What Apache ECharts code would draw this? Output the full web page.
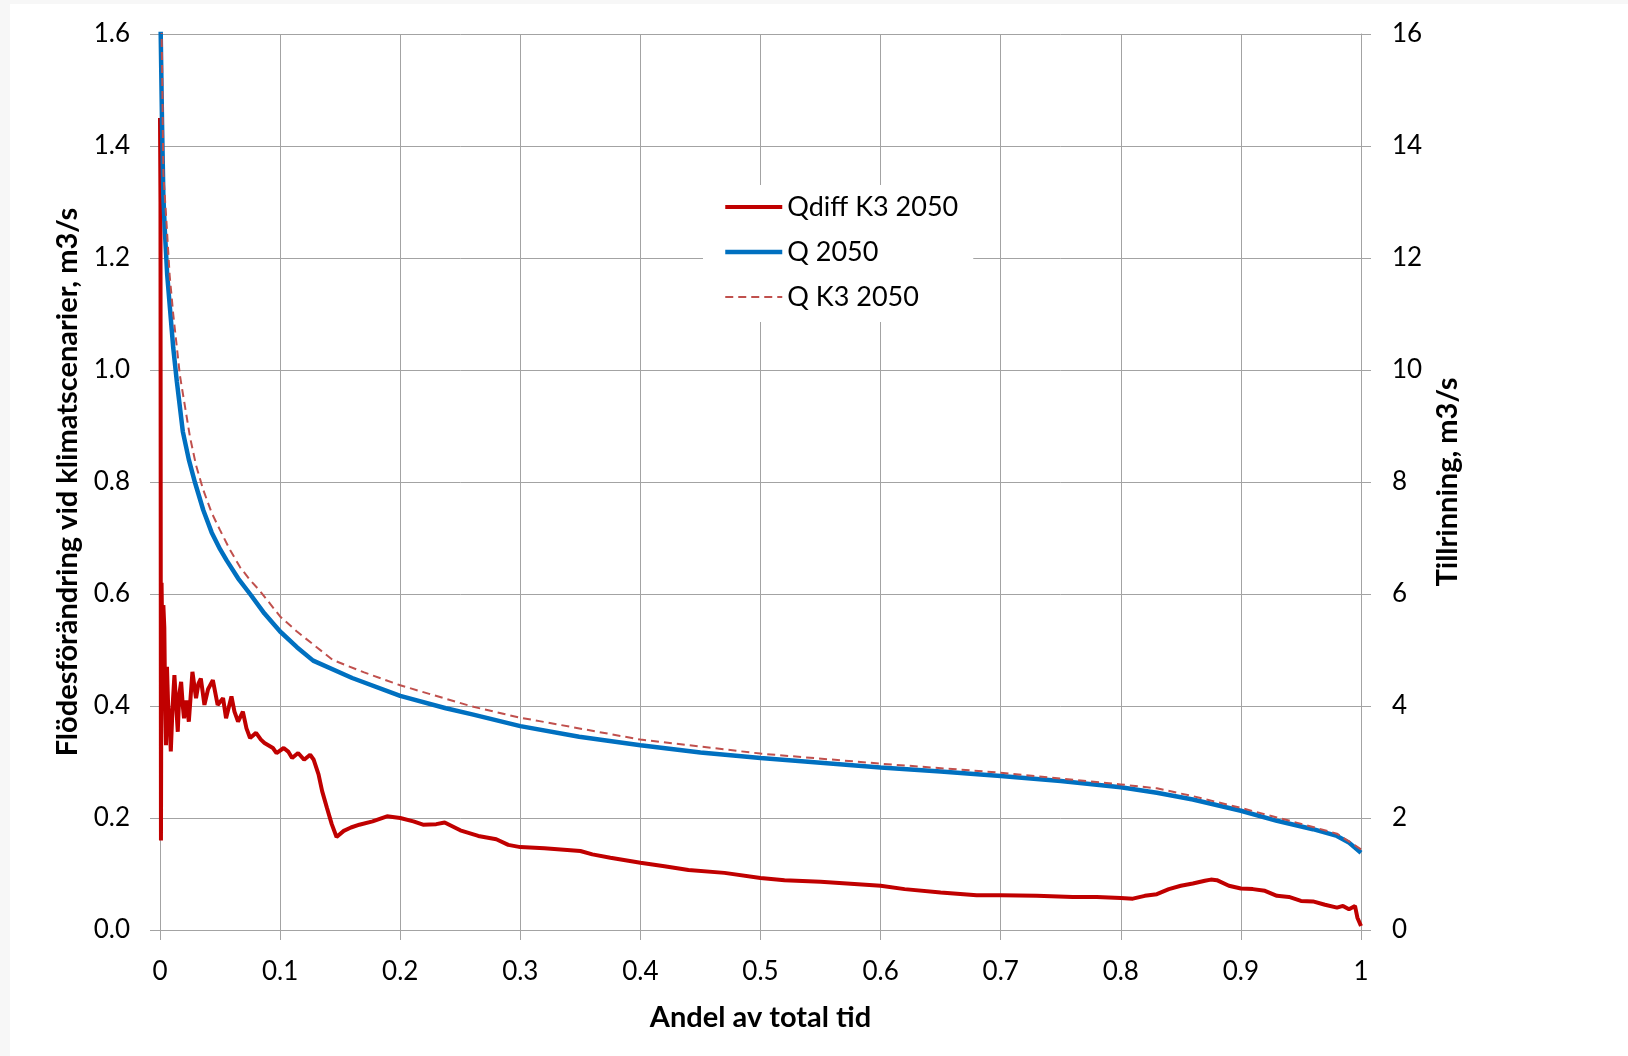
<!DOCTYPE html>
<html>
<head>
<meta charset="utf-8">
<script src="https://cdn.jsdelivr.net/npm/echarts@6/dist/echarts.min.js"></script>
<style>
  html, body { margin: 0; padding: 0; background: #f7f7f7; }
  #bg { position: absolute; left: 10px; top: 4px; width: 1618px; height: 1052px; background: #ffffff; }
  #chart { position: absolute; left: 0; top: 0; width: 1628px; height: 1056px; }
</style>
</head>
<body>
<div id="bg"></div>
<div id="chart"></div>
<script>
// ---- Data ----
const xTicks = ['0', '0.1', '0.2', '0.3', '0.4', '0.5', '0.6', '0.7', '0.8', '0.9', '1'];
const leftTicks = ['0.0', '0.2', '0.4', '0.6', '0.8', '1.0', '1.2', '1.4', '1.6'];
const rightTicks = ['0', '2', '4', '6', '8', '10', '12', '14', '16'];

const seriesNames = ['Qdiff K3 2050', 'Q 2050', 'Q K3 2050'];

// Qdiff K3 2050 (left axis): [andel av tid, m3/s]
const qdiffK3 = [
  [0, 1.45], [0.0004, 1.30], [0.0008, 0.16], [0.0013, 0.62], [0.002, 0.50], [0.0028, 0.58],
  [0.0036, 0.54], [0.0043, 0.40], [0.005, 0.33], [0.0058, 0.47], [0.0068, 0.40], [0.0078, 0.378],
  [0.009, 0.319], [0.0105, 0.40], [0.012, 0.455], [0.0135, 0.40], [0.0148, 0.354], [0.016, 0.42],
  [0.0176, 0.443], [0.019, 0.40], [0.02, 0.378], [0.022, 0.41], [0.024, 0.372], [0.027, 0.461],
  [0.030, 0.414], [0.032, 0.44], [0.034, 0.449], [0.037, 0.402], [0.040, 0.43], [0.044, 0.446],
  [0.048, 0.402], [0.0525, 0.414], [0.055, 0.378], [0.0595, 0.417], [0.062, 0.39], [0.065, 0.372],
  [0.069, 0.39], [0.072, 0.36], [0.075, 0.343], [0.080, 0.352], [0.084, 0.34], [0.087, 0.334],
  [0.094, 0.325], [0.097, 0.316], [0.103, 0.325], [0.107, 0.318], [0.11, 0.307], [0.115, 0.316],
  [0.12, 0.304], [0.125, 0.313], [0.128, 0.304], [0.132, 0.278], [0.135, 0.248], [0.139, 0.218],
  [0.143, 0.189], [0.147, 0.166], [0.153, 0.177], [0.159, 0.183], [0.166, 0.188], [0.177, 0.194],
  [0.189, 0.203], [0.2, 0.2], [0.211, 0.194], [0.219, 0.188], [0.23, 0.189], [0.237, 0.192],
  [0.25, 0.178], [0.265, 0.168], [0.28, 0.162], [0.29, 0.152], [0.3, 0.148], [0.32, 0.146],
  [0.35, 0.141], [0.36, 0.135], [0.375, 0.129], [0.4, 0.12], [0.42, 0.114], [0.44, 0.107],
  [0.47, 0.102], [0.5, 0.093], [0.52, 0.089], [0.55, 0.086], [0.6, 0.079], [0.62, 0.073],
  [0.65, 0.067], [0.68, 0.062], [0.7, 0.062], [0.73, 0.061], [0.76, 0.059], [0.78, 0.059],
  [0.8, 0.057], [0.81, 0.056], [0.82, 0.061], [0.83, 0.064], [0.84, 0.073], [0.85, 0.079],
  [0.86, 0.083], [0.87, 0.088], [0.875, 0.090], [0.88, 0.089], [0.89, 0.079], [0.9, 0.074],
  [0.91, 0.073], [0.92, 0.070], [0.93, 0.061], [0.94, 0.059], [0.95, 0.052], [0.96, 0.051],
  [0.97, 0.045], [0.98, 0.040], [0.985, 0.043], [0.99, 0.037], [0.995, 0.043], [0.997, 0.022],
  [1.0, 0.007]
];

// Q 2050 (right axis)
const q2050 = [
  [0, 18], [0.0006, 16], [0.0017, 14.4], [0.0028, 13.1], [0.004, 12.5], [0.006, 11.7],
  [0.0083, 11.1], [0.011, 10.4], [0.014, 9.8], [0.019, 8.9], [0.024, 8.4], [0.029, 8.0],
  [0.036, 7.5], [0.043, 7.1], [0.05, 6.8], [0.0555, 6.6], [0.065, 6.28], [0.075, 6.0],
  [0.087, 5.65], [0.1, 5.33], [0.114, 5.05], [0.1275, 4.81], [0.16, 4.5], [0.2, 4.18],
  [0.238, 3.96], [0.26, 3.85], [0.3, 3.64], [0.349, 3.45], [0.4, 3.30], [0.45, 3.17],
  [0.5, 3.07], [0.6, 2.90], [0.65, 2.83], [0.7, 2.75], [0.75, 2.66], [0.8, 2.55],
  [0.83, 2.45], [0.86, 2.33], [0.9, 2.13], [0.93, 1.95], [0.96, 1.80], [0.98, 1.68],
  [0.99, 1.56], [1.0, 1.38]
];

// Q K3 2050 (right axis)
const qK3_2050 = [
  [0, 18], [0.0014, 16], [0.0028, 13.5], [0.0055, 12.6], [0.008, 11.7], [0.011, 11.0],
  [0.0166, 9.9], [0.025, 8.8], [0.03, 8.3], [0.036, 7.86], [0.043, 7.45], [0.05, 7.14],
  [0.058, 6.8], [0.0666, 6.48], [0.075, 6.25], [0.083, 6.06], [0.1, 5.6], [0.114, 5.33],
  [0.1275, 5.10], [0.144, 4.82], [0.17, 4.6], [0.2, 4.37], [0.26, 3.99], [0.3, 3.79],
  [0.316, 3.73], [0.4, 3.40], [0.5, 3.15], [0.6, 2.97], [0.7, 2.81], [0.8, 2.60],
  [0.83, 2.53], [0.86, 2.39], [0.9, 2.18], [0.93, 2.01], [0.96, 1.84], [0.98, 1.72],
  [1.0, 1.44]
];

// ---- Chart ----
const FONT = 'Lato';
const gridColor = '#a3a3a3';
const chart = echarts.init(document.getElementById('chart'), null, { renderer: 'canvas' });

chart.setOption({
  backgroundColor: 'transparent',
  animation: false,
  textStyle: { fontFamily: FONT, color: '#000' },
  grid: { left: 160, right: 267, top: 34, bottom: 126, containLabel: false },
  legend: {
    orient: 'vertical',
    left: 703,
    top: 185,
    padding: [7, 15, 10, 20],
    backgroundColor: '#ffffff',
    itemWidth: 57,
    itemHeight: 14,
    itemGap: 15,
    itemStyle: { opacity: 0, borderWidth: 0 },
    lineStyle: { width: 'inherit' },
    textStyle: { fontFamily: FONT, fontSize: 27, color: '#000', lineHeight: 30 },
    data: seriesNames
  },
  xAxis: {
    type: 'value',
    min: 0, max: 1, interval: 0.1,
    name: 'Andel av total tid',
    nameLocation: 'middle',
    nameGap: 73,
    nameTextStyle: { fontFamily: FONT, fontSize: 29, fontWeight: 'bold', color: '#000' },
    axisLine: { show: true, lineStyle: { color: gridColor, width: 1 } },
    axisTick: { show: true, inside: false, length: 10, lineStyle: { color: gridColor } },
    axisLabel: {
      fontFamily: FONT, fontSize: 26, color: '#000', margin: 29,
      formatter: (v) => xTicks[Math.round(v * 10)]
    },
    splitLine: { show: true, lineStyle: { color: gridColor, width: 1 } }
  },
  yAxis: [
    {
      type: 'value',
      position: 'left',
      min: 0, max: 1.6, interval: 0.2,
      name: 'Flödesförändring vid klimatscenarier, m3/s',
      nameLocation: 'middle',
      nameRotate: 90,
      nameGap: 78,
      nameTextStyle: { fontFamily: FONT, fontSize: 29, fontWeight: 'bold', color: '#000' },
      axisLine: { show: true, lineStyle: { color: gridColor, width: 1 } },
      axisTick: { show: true, inside: false, length: 10, lineStyle: { color: gridColor } },
      axisLabel: {
        fontFamily: FONT, fontSize: 26, color: '#000', margin: 30,
        formatter: (v) => leftTicks[Math.round(v * 5)]
      },
      splitLine: { show: true, lineStyle: { color: gridColor, width: 1 } }
    },
    {
      type: 'value',
      position: 'right',
      min: 0, max: 16, interval: 2,
      name: 'Tillrinning, m3/s',
      nameLocation: 'middle',
      nameRotate: 90,
      nameGap: 72,
      nameTextStyle: { fontFamily: FONT, fontSize: 29, fontWeight: 'bold', color: '#000' },
      axisLine: { show: true, lineStyle: { color: gridColor, width: 1 } },
      axisTick: { show: true, inside: false, length: 10, lineStyle: { color: gridColor } },
      axisLabel: {
        fontFamily: FONT, fontSize: 26, color: '#000', margin: 31,
        formatter: (v) => rightTicks[Math.round(v / 2)]
      },
      splitLine: { show: false }
    }
  ],
  series: [
    {
      name: seriesNames[0], type: 'line', yAxisIndex: 0, data: qdiffK3,
      showSymbol: false, symbol: 'none', smooth: false, clip: true,
      lineStyle: { color: '#C00000', width: 4 }, itemStyle: { color: '#C00000' }
    },
    {
      name: seriesNames[1], type: 'line', yAxisIndex: 1, data: q2050,
      showSymbol: false, symbol: 'none', smooth: false, clip: true,
      lineStyle: { color: '#0070C0', width: 4.5 }, itemStyle: { color: '#0070C0' }
    },
    {
      name: seriesNames[2], type: 'line', yAxisIndex: 1, data: qK3_2050,
      showSymbol: false, symbol: 'none', smooth: false, clip: true,
      lineStyle: { color: '#C0504D', width: 2, type: [8, 5] }, itemStyle: { color: '#C0504D' }
    }
  ]
});
</script>
</body>
</html>
